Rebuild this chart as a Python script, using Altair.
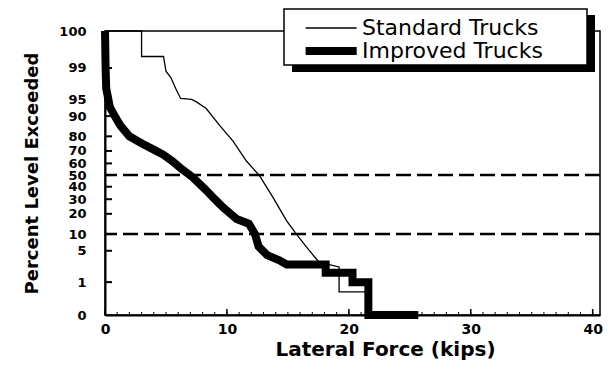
import altair as alt
import pandas as pd
from statistics import NormalDist

# ---------------- data ----------------
series_names = ["Standard Trucks", "Improved Trucks"]

improved_x = [0, 0.05, 0.1, 0.4, 0.8, 1.25, 2.0, 3.1, 4.0, 4.8, 5.5, 6.2, 7.2, 8.3, 9.0,
              9.7, 10.8, 11.8, 12.3, 12.6, 13.3, 14.3, 14.9, 18.1, 18.1, 20.3, 20.3,
              21.6, 21.6, 25.7]
improved_pct = [100, 99, 97, 93, 90, 86, 80, 75, 71, 67, 62, 56, 48, 37, 30,
                24, 17, 14.5, 10, 6, 4.1, 3.2, 2.6, 2.6, 1.7, 1.7, 1.0,
                1.0, 0, 0]

standard_x = [0, 3.0, 3.0, 4.8, 5.0, 5.4, 5.8, 6.2, 7.1, 7.5, 8.3, 9.4, 10.5, 11.6,
              12.7, 13.8, 14.9, 15.7, 16.5, 17.3, 17.6, 19.2, 19.2, 21.6, 21.6]
standard_pct = [100, 100, 99.5, 99.5, 98.8, 98.3, 97, 95.2, 95, 94.4, 92.6, 86, 77, 62,
                49, 31, 16, 10, 6, 3.5, 2.9, 2.3, 0.56, 0.56, 0]

y_tick_labels = [0, 1, 5, 10, 20, 30, 40, 50, 60, 70, 80, 90, 95, 99, 100]
x_tick_values = [0, 10, 20, 30, 40]
x_minor_ticks = list(range(0, 41))
ref_levels = [50, 10]

# ---------------- normal-probability scale ----------------
Z_MIN, Z_MAX = -3.04, 3.13
nd = NormalDist()


def probit(p):
    if p <= 0:
        return Z_MIN
    if p >= 100:
        return Z_MAX
    return nd.inv_cdf(p / 100.0)


rows = []
for name, xs, ps in [(series_names[0], standard_x, standard_pct),
                     (series_names[1], improved_x, improved_pct)]:
    for i, (xv, pv) in enumerate(zip(xs, ps)):
        rows.append({"series": name, "x": xv, "z": probit(pv), "i": i})
df = pd.DataFrame(rows)

ytick_z = [float(probit(v)) for v in y_tick_labels]
ytick_inner = pd.DataFrame({"z": [float(probit(v)) for v in y_tick_labels if 0 < v < 100]})
ref_df = pd.DataFrame({"z": [probit(v) for v in ref_levels]})
xminor_df = pd.DataFrame({"x": x_minor_ticks})
xmajor_df = pd.DataFrame({"x": x_tick_values})

label_expr = ""
for zv, lab in zip(ytick_z, y_tick_labels):
    label_expr += f"abs(datum.value - ({zv:.6f})) < 0.0001 ? '{lab}' : "
label_expr += "''"

W, H = 495, 284
FONT = "DejaVu Sans"

xscale = alt.Scale(domain=[0, 40.6], nice=False, zero=False)
yscale = alt.Scale(domain=[Z_MIN, Z_MAX], nice=False, zero=False)

x_axis = alt.Axis(values=x_tick_values, ticks=False, grid=False, labelPadding=7,
                  labelFont=FONT, labelFontWeight="bold", labelFontSize=14,
                  labelFlush=False, labelOverlap=False, labelColor="black",
                  title="Lateral Force (kips)", titleFont=FONT, titleFontWeight="bold",
                  titleFontSize=20, titleColor="black", titleX=280, titleY=40,
                  titleAlign="center", titleBaseline="alphabetic",
                  domainColor="black", domainWidth=2)
y_axis = alt.Axis(values=ytick_z, labelExpr=label_expr, ticks=False, grid=False,
                  labelPadding=19, labelOverlap=False, labelFlush=False,
                  labelFont=FONT, labelFontWeight="bold", labelFontSize=13, labelColor="black",
                  title="Percent Level Exceeded", titleFont=FONT, titleFontWeight="bold",
                  titleFontSize=18, titleColor="black", titleX=-68, titleY=H / 2,
                  titleAngle=270, titleAlign="center", titleBaseline="alphabetic",
                  domainColor="black", domainWidth=2)

legend = alt.Legend(title=None, orient="none", legendX=196, legendY=-14,
                    symbolType="M-1,0H7", symbolSize=163, symbolStrokeColor="black",
                    labelFont=FONT, labelFontSize=22, labelColor="black", labelOffset=39,
                    labelLimit=400, rowPadding=-4, padding=0)

X = alt.X("x:Q", scale=xscale, axis=x_axis)
Y = alt.Y("z:Q", scale=yscale, axis=y_axis)

lines = alt.Chart(df).mark_line(color="black", strokeJoin="miter").encode(
    x=X, y=Y,
    strokeWidth=alt.StrokeWidth("series:N",
                                scale=alt.Scale(domain=series_names, range=[1.3, 8]),
                                legend=legend),
    detail="series:N",
    order="i:Q",
)

refs = alt.Chart(ref_df).mark_rule(color="black", strokeWidth=2.5, strokeDash=[15, 6]).encode(y=Y)

yticks = alt.Chart(ytick_inner).mark_rule(color="black", strokeWidth=2).encode(
    y=Y, x=alt.value(0), x2=alt.value(7))
xminor = alt.Chart(xminor_df).mark_rule(color="black", strokeWidth=1).encode(
    x=X, y=alt.value(H), y2=alt.value(H - 3))
xmajor = alt.Chart(xmajor_df).mark_rule(color="black", strokeWidth=1.5).encode(
    x=X, y=alt.value(H), y2=alt.value(H - 6))

# legend frame with drop shadow (decoration)
one = pd.DataFrame({"a": [0]})
shadow = alt.Chart(one).mark_rect(color="black").encode(
    x=alt.value(187), x2=alt.value(490), y=alt.value(-16), y2=alt.value(41))
box = alt.Chart(one).mark_rect(fill="white", stroke="black", strokeWidth=1.5).encode(
    x=alt.value(179), x2=alt.value(482), y=alt.value(-22), y2=alt.value(34))

chart = alt.layer(lines, refs, yticks, xminor, xmajor, shadow, box).properties(
    width=W, height=H,
    padding={"left": 97, "top": 23, "right": 4, "bottom": 46},
    autosize=alt.AutoSizeParams(type="none"),
    background="white",
).configure_view(stroke="black", strokeWidth=1.5).configure_axis(labelOverlap=False)

chart.save("out.html", embed_options={"renderer": "svg", "actions": False})
